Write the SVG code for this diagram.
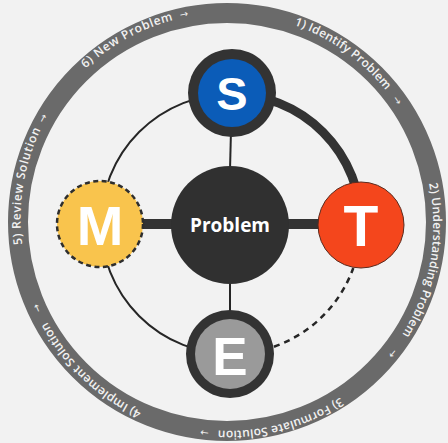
<svg xmlns="http://www.w3.org/2000/svg" xmlns:xlink="http://www.w3.org/1999/xlink" width="448" height="443" viewBox="0 0 448 443">
<style>
.ring{fill:none;stroke:#6a6a6a;stroke-width:20}
.lbl{font-family:"Open Sans","DejaVu Sans",sans-serif;font-weight:600;font-size:12px;fill:#f2f2f2;letter-spacing:0.2px}
.wide{letter-spacing:0.7px}
.arw{font-family:"DejaVu Sans",sans-serif;font-size:10px;fill:#f2f2f2}
.thin{fill:none;stroke:#262626;stroke-width:2}
.thick{fill:none;stroke:#333;stroke-width:9}
.dash{fill:none;stroke:#262626;stroke-width:2.5;stroke-dasharray:6 5}
.letter{font-family:"Liberation Sans",Arial,sans-serif;font-weight:700;fill:#fff;text-anchor:middle}
</style>
<defs>
<path id="cyc" d="M 419.6 151.9 A 205 205 0 1 1 34.4 292.1 A 205 205 0 1 1 419.6 151.9"/>
</defs>
<rect width="448" height="443" fill="#f2f2f2"/>
<g id="cycle-ring">
<circle class="ring" cx="227" cy="222" r="209"/>
<text class="lbl"><textPath xlink:href="#cyc" href="#cyc" startOffset="33">2) Understanding Problem</textPath></text>
<text class="arw" text-anchor="middle"><textPath xlink:href="#cyc" href="#cyc" startOffset="211">→</textPath></text>
<text class="lbl"><textPath xlink:href="#cyc" href="#cyc" startOffset="279">3) Formulate Solution</textPath></text>
<text class="arw" text-anchor="middle"><textPath xlink:href="#cyc" href="#cyc" startOffset="421">→</textPath></text>
<text class="lbl"><textPath xlink:href="#cyc" href="#cyc" startOffset="487">4) Implement Solution</textPath></text>
<text class="arw" text-anchor="middle"><textPath xlink:href="#cyc" href="#cyc" startOffset="636">→</textPath></text>
<text class="lbl wide"><textPath xlink:href="#cyc" href="#cyc" startOffset="701">5) Review Solution</textPath></text>
<text class="arw" text-anchor="middle"><textPath xlink:href="#cyc" href="#cyc" startOffset="830">→</textPath></text>
<text class="lbl wide"><textPath xlink:href="#cyc" href="#cyc" startOffset="895">6) New Problem</textPath></text>
<text class="arw" text-anchor="middle"><textPath xlink:href="#cyc" href="#cyc" startOffset="1008">→</textPath></text>
<text class="lbl"><textPath xlink:href="#cyc" href="#cyc" startOffset="1119">1) Identify Problem</textPath></text>
<text class="arw" text-anchor="middle"><textPath xlink:href="#cyc" href="#cyc" startOffset="1248">→</textPath></text>
</g>
<g id="connectors">
<path class="thick" d="M 231 94 A 130 130 0 0 1 361 224"/>
<path class="thin" d="M 231 94 A 130 130 0 0 0 101 224"/>
<path class="thin" d="M 101 224 A 130 130 0 0 0 231 354"/>
<path class="dash" d="M 274 346.7 A 130 130 0 0 0 353.3 268"/>
<line class="thin" x1="231" y1="130" x2="230" y2="170"/>
<line class="thin" x1="230" y1="280" x2="230" y2="315"/>
<line class="thick" x1="140" y1="224" x2="325" y2="224" style="stroke-width:10"/>
</g>
<g id="problem">
<circle cx="230" cy="225" r="59" fill="#303030"/>
<text x="230" y="232" font-family="'Open Sans',sans-serif" font-weight="700" font-size="19" fill="#fff" text-anchor="middle">Problem</text>
</g>
<g id="node-s">
<circle cx="232" cy="93" r="44" fill="#333"/>
<circle cx="232" cy="93" r="34" fill="#0b5cb8"/>
<text class="letter" x="232" y="110" font-size="47">S</text>
</g>
<g id="node-t">
<circle cx="361" cy="225" r="43" fill="#f4461c" stroke="#5a2a1e" stroke-width="1"/>
<text class="letter" x="361" y="246" font-size="57">T</text>
</g>
<g id="node-m">
<circle cx="100" cy="224" r="43" fill="#f9c44d" stroke="#2e2e2e" stroke-width="2.5" stroke-dasharray="5 3.5"/>
<text class="letter" x="100" y="245" font-size="56">M</text>
</g>
<g id="node-e">
<circle cx="230" cy="354" r="44" fill="#333"/>
<circle cx="230" cy="354" r="35" fill="#9a9a9a"/>
<text class="letter" x="230" y="375" font-size="53">E</text>
</g>
</svg>
